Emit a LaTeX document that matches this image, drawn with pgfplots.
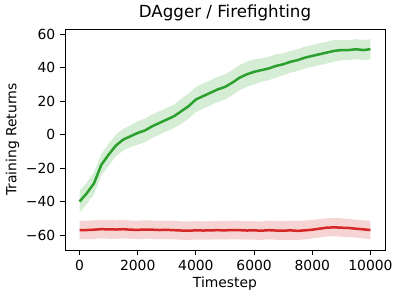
\documentclass[border=0pt]{standalone}
\usepackage{fontspec}
\setmainfont{DejaVu Sans}
\usepackage{pgfplots}
\pgfplotsset{compat=1.18}
\usepgfplotslibrary{fillbetween}
\usepackage{pgfplotstable}
\definecolor{tabgreen}{HTML}{2CA02C}
\definecolor{tabred}{HTML}{D62728}
\pgfplotstableread{
t mean lo hi
0 -40 -46.5 -33.5
250 -35 -41.5 -28.5
500 -29 -35.5 -22.5
750 -18 -24.5 -11.5
1000 -12 -18.5 -5.5
1250 -6.5 -13 0
1500 -3 -9.5 3.5
1750 -1 -7.5 5.5
2000 1 -6 8
2250 2.5 -4.5 9.5
2500 5 -2 12
2750 7 0 14
3000 9 2 16
3250 11 4 18
3500 14 6.5 21.5
3750 17 9.5 24.5
4000 21 13.5 28.5
4250 23 15.5 30.5
4500 25 17.5 32.5
4750 27 19.5 34.5
5000 28.5 21 36
5250 31 23.5 38.5
5500 34 26.5 41.5
5750 36 28.5 43.5
6000 37.5 30 45
6250 38.5 31.5 45.5
6500 39.5 32.5 46.5
6750 41 34 48
7000 42 35.5 48.5
7250 43.5 37 50
7500 44.5 38 51
7750 46 39.5 52.5
8000 47 40.5 53.5
8250 48 41.5 54.5
8500 49 42.5 55.5
8750 50 43.5 56.5
9000 50.5 44.5 56.5
9250 50.5 44.5 56.5
9500 51 45 57
9750 50.5 44.5 56.5
10000 51 45 57
}\greentab
\pgfplotstableread{
t mean lo hi
0 -57 -62.5 -51.5
250 -57 -62.5 -51.5
500 -56.8 -62.3 -51.2
750 -56.5 -62 -51
1000 -56.6 -62.2 -51
1250 -56.7 -62.3 -51.2
1500 -56.5 -62 -51
1750 -56.8 -62.3 -51.3
2000 -56.9 -62.4 -51.4
2250 -56.7 -62.2 -51.2
2500 -56.8 -62.3 -51.3
2750 -57 -62.5 -51.5
3000 -56.9 -62.4 -51.4
3250 -57.1 -62.6 -51.6
3500 -57.3 -62.8 -51.8
3750 -57.4 -62.9 -51.9
4000 -57.2 -62.7 -51.7
4250 -57.3 -62.8 -51.8
4500 -57.2 -62.7 -51.7
4750 -57.1 -62.6 -51.6
5000 -57.2 -62.7 -51.7
5250 -57 -62.5 -51.5
5500 -57.1 -62.6 -51.6
5750 -57.3 -62.8 -51.8
6000 -57.2 -62.7 -51.7
6250 -57.4 -62.9 -51.9
6500 -57.1 -62.6 -51.5
6750 -57.3 -62.8 -51.6
7000 -57.4 -62.9 -51.7
7250 -57.2 -62.8 -51.5
7500 -57.5 -63 -51.7
7750 -57.2 -62.6 -51.3
8000 -56.8 -62 -51
8250 -56.2 -61.5 -50.5
8500 -55.6 -60.8 -50
8750 -55.4 -60.7 -49.8
9000 -55.6 -61 -50
9250 -55.8 -61.2 -50.3
9500 -56.2 -61.5 -50.8
9750 -56.6 -62 -51.2
10000 -57 -62.5 -51.5
}\redtab
\begin{document}
\begin{tikzpicture}
\begin{axis}[
  at={(0,0)}, anchor=south west,
  scale only axis, width=230.4pt, height=159.1pt,
  xmin=-500, xmax=10500, ymin=-69, ymax=63,
  xtick={0,2000,4000,6000,8000,10000},
  xticklabels={0,2000,4000,6000,8000,10000},
  ytick={-60,-40,-20,0,20,40,60},
  yticklabels={−60,−40,−20,0,20,40,60},
  tick align=outside, major tick length=3.5pt,
  tick style={black, line width=0.6pt},
  axis line style={line width=0.6pt},
  xtick pos=bottom, ytick pos=left,
  ticklabel style={font=\fontsize{10}{12}\selectfont},
  label style={font=\fontsize{10}{12}\selectfont},
  title style={font=\fontsize{12}{14}\selectfont, yshift=-3.5pt},
  title={DAgger / Firefighting},
  xlabel={Timestep}, ylabel={Training Returns},
  xlabel style={yshift=2pt},
  ylabel style={yshift=-2pt},
  scaled x ticks=false,
]
\addplot[name path=gh, draw=none, forget plot] table[x=t,y=hi] {\greentab};
\addplot[name path=gl, draw=none, forget plot] table[x=t,y=lo] {\greentab};
\addplot[tabgreen, fill opacity=0.2, draw opacity=0.2, forget plot] fill between[of=gh and gl];
\addplot[name path=rh, draw=none, forget plot] table[x=t,y=hi] {\redtab};
\addplot[name path=rl, draw=none, forget plot] table[x=t,y=lo] {\redtab};
\addplot[tabred, fill opacity=0.2, draw opacity=0.2, forget plot] fill between[of=rh and rl];
\addplot[tabgreen, line width=1.8pt, no markers] table[x=t,y=mean] {\greentab};
\addplot[tabred, line width=1.8pt, no markers] table[x=t,y=mean] {\redtab};
\end{axis}
\path (-46.8pt,-36pt) rectangle (241.2pt,180pt);
\end{tikzpicture}
\end{document}
